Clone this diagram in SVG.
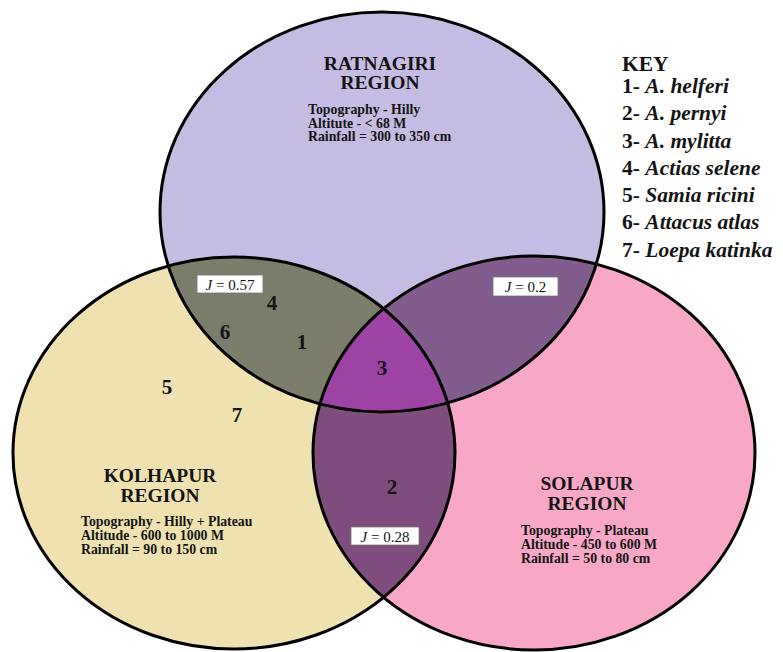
<svg xmlns="http://www.w3.org/2000/svg" width="783" height="652" viewBox="0 0 783 652">
<style>
  text { font-family: "Liberation Serif", "Times New Roman", serif; fill: #141414; font-weight: bold; }
  .title { font-size: 19.5px; text-anchor: middle; }
  .info { font-size: 13.8px; }
  .num { font-size: 21px; text-anchor: middle; }
  .key { font-size: 21.5px; }
  .sp { font-style: italic; }
  .jbox { fill: #ffffff; stroke: #777; stroke-width: 0.8; }
  .jt { font-size: 15px; font-weight: normal; text-anchor: middle; }
  .edge { fill: none; stroke: #000; stroke-width: 3; }
</style>
<defs>
  <clipPath id="cT"><ellipse cx="382" cy="212" rx="222" ry="200"/></clipPath>
  <clipPath id="cL"><ellipse cx="234" cy="453" rx="221" ry="196"/></clipPath>
  <clipPath id="cR"><ellipse cx="534" cy="453" rx="221" ry="197"/></clipPath>
</defs>
<rect width="783" height="652" fill="#ffffff"/>

<g id="ratnagiri">
  <ellipse cx="382" cy="212" rx="222" ry="200" fill="#C4BCE3"/>
</g>
<g id="kolhapur">
  <ellipse cx="234" cy="453" rx="221" ry="196" fill="#EFE2B0"/>
</g>
<g id="solapur">
  <ellipse cx="534" cy="453" rx="221" ry="197" fill="#F8A8C6"/>
</g>

<g id="overlaps">
  <ellipse cx="234" cy="453" rx="221" ry="196" fill="#7C7C6A" clip-path="url(#cT)"/>
  <ellipse cx="534" cy="453" rx="221" ry="197" fill="#825C8C" clip-path="url(#cT)"/>
  <ellipse cx="534" cy="453" rx="221" ry="197" fill="#7F4D7D" clip-path="url(#cL)"/>
  <g clip-path="url(#cT)">
    <ellipse cx="534" cy="453" rx="221" ry="197" fill="#9D43A3" clip-path="url(#cL)"/>
  </g>
</g>

<g id="outlines">
  <ellipse class="edge" cx="382" cy="212" rx="222" ry="200"/>
  <ellipse class="edge" cx="234" cy="453" rx="221" ry="196"/>
  <ellipse class="edge" cx="534" cy="453" rx="221" ry="197"/>
</g>

<g id="ratnagiri-label">
  <text class="title" x="380" y="70">RATNAGIRI</text>
  <text class="title" x="380" y="89">REGION</text>
  <text class="info" x="308" y="114">Topography - Hilly</text>
  <text class="info" x="308" y="127.5">Altitute - &lt; 68 M</text>
  <text class="info" x="308" y="141">Rainfall = 300 to 350 cm</text>
</g>

<g id="kolhapur-label">
  <text class="title" x="160" y="482">KOLHAPUR</text>
  <text class="title" x="160" y="502">REGION</text>
  <text class="info" x="81" y="526">Topography - Hilly + Plateau</text>
  <text class="info" x="81" y="540">Altitude - 600 to 1000 M</text>
  <text class="info" x="81" y="554">Rainfall = 90 to 150 cm</text>
</g>

<g id="solapur-label">
  <text class="title" x="587" y="490">SOLAPUR</text>
  <text class="title" x="587" y="510">REGION</text>
  <text class="info" x="521" y="535">Topography - Plateau</text>
  <text class="info" x="521" y="549">Altitude - 450 to 600 M</text>
  <text class="info" x="521" y="563">Rainfall = 50 to 80 cm</text>
</g>

<g id="species">
  <text class="num" x="272" y="310">4</text>
  <text class="num" x="225" y="339">6</text>
  <text class="num" x="302" y="349">1</text>
  <text class="num" x="382" y="375">3</text>
  <text class="num" x="167" y="394">5</text>
  <text class="num" x="237" y="422">7</text>
  <text class="num" x="392" y="494">2</text>
</g>

<g id="jaccard-tl">
  <rect class="jbox" x="197" y="275" width="66" height="18"/>
  <text class="jt" x="230" y="289.5"><tspan font-style="italic">J</tspan> = 0.57</text>
</g>
<g id="jaccard-tr">
  <rect class="jbox" x="493" y="277" width="65" height="19"/>
  <text class="jt" x="525.5" y="292"><tspan font-style="italic">J</tspan> = 0.2</text>
</g>
<g id="jaccard-lr">
  <rect class="jbox" x="351" y="527" width="68" height="18"/>
  <text class="jt" x="385" y="541.5"><tspan font-style="italic">J</tspan> = 0.28</text>
</g>

<g id="key">
  <text class="key" x="622" y="71">KEY</text>
  <text class="key" x="622" y="93">1- <tspan class="sp">A. helferi</tspan></text>
  <text class="key" x="622" y="120">2- <tspan class="sp">A. pernyi</tspan></text>
  <text class="key" x="622" y="147.5">3- <tspan class="sp">A. mylitta</tspan></text>
  <text class="key" x="622" y="175">4- <tspan class="sp">Actias selene</tspan></text>
  <text class="key" x="622" y="202">5- <tspan class="sp">Samia ricini</tspan></text>
  <text class="key" x="622" y="229">6- <tspan class="sp">Attacus atlas</tspan></text>
  <text class="key" x="622" y="256.5">7- <tspan class="sp">Loepa katinka</tspan></text>
</g>
</svg>
